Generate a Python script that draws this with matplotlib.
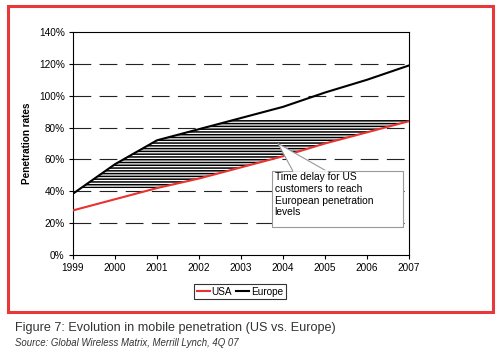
import numpy as np
import matplotlib
matplotlib.use('Agg')
import matplotlib.pyplot as plt
from matplotlib.patches import Rectangle, Polygon

plt.rcParams['font.family'] = ['Liberation Sans', 'DejaVu Sans']
plt.rcParams['hatch.linewidth'] = 1.1

years = [1999, 2000, 2001, 2002, 2003, 2004, 2005, 2006, 2007]
usa = [28, 35, 42, 48, 55, 62, 70, 77, 84]
europe = [38.5, 57, 72, 79, 86, 93, 102, 110, 119]
yticks = [0, 20, 40, 60, 80, 100, 120, 140]
note = 'Time delay for US\ncustomers to reach\nEuropean penetration\nlevels'

red = '#e8322f'

fig = plt.figure(figsize=(5, 3.59), dpi=100)
ax = fig.add_axes([0.146, 0.2897, 0.672, 0.6212])

# dashed gridlines
for v in yticks[1:-1]:
    ax.axhline(v, color='#222222', lw=0.8, ls=(0, (16, 7.5)), zorder=1)

# hatched "time delay" area: between the US curve and the European curve,
# capped at the final US level and trimmed at the bottom
xs = np.linspace(years[0], years[-1], 400)
top = np.minimum(np.interp(xs, years, europe), max(usa) + 1)
bot = np.maximum(np.interp(xs, years, usa), 42)
ax.fill_between(xs, bot, top, where=top > bot, facecolor='white',
                edgecolor='black', hatch='------', lw=0, zorder=2)

ax.plot(years, usa, color=red, lw=1.5, label='USA', zorder=4)
ax.plot(years, europe, color='black', lw=1.5, label='Europe', zorder=4)

# callout
ax.add_patch(Polygon([(2003.88, 70), (2004.24, 52.5), (2005.05, 52.5)],
                     closed=True, facecolor='white', edgecolor='#999999',
                     lw=0.8, zorder=5))
ax.add_patch(Rectangle((2003.74, 17.5), 3.12, 35, facecolor='white',
                       edgecolor='#999999', lw=0.8, zorder=6))
ax.plot([2004.25, 2005.04], [52.5, 52.5], color='white', lw=1.2, zorder=7)
ax.text(2003.8, 51.8, note, fontsize=7.4, va='top', ha='left',
        linespacing=1.2, zorder=8)

ax.set_xlim(1999, 2007)
ax.set_ylim(0, 140)
ax.set_xticks(years)
ax.set_yticks(yticks)
ax.set_yticklabels([f'{v}%' for v in yticks])
ax.tick_params(labelsize=7.2, length=3, width=0.8, direction='out', pad=3)
for s in ax.spines.values():
    s.set_linewidth(0.8)
ax.set_ylabel('Penetration rates', fontsize=7.2, fontweight='bold', labelpad=5)

fig.legend(loc='center', bbox_to_anchor=(0.48, 0.188), ncol=2, fontsize=7.2,
           frameon=True, fancybox=False, edgecolor='black', handlelength=1.3,
           handletextpad=0.2, columnspacing=0.4, borderpad=0.25,
           borderaxespad=0).get_frame().set_linewidth(0.8)

# red outer frame
fig.patches.append(Rectangle((0.016, 0.131), 0.97, 0.853,
                             transform=fig.transFigure, fill=False,
                             edgecolor='#e8393a', lw=2.2))

fig.text(0.03, 0.086, 'Figure 7: Evolution in mobile penetration (US vs. Europe)',
         fontsize=9.1, color='#333333', va='center')
fig.text(0.03, 0.045, 'Source: Global Wireless Matrix, Merrill Lynch, 4Q 07',
         fontsize=6.9, style='italic', color='#333333', va='center')

fig.savefig('out.png', dpi=100)
